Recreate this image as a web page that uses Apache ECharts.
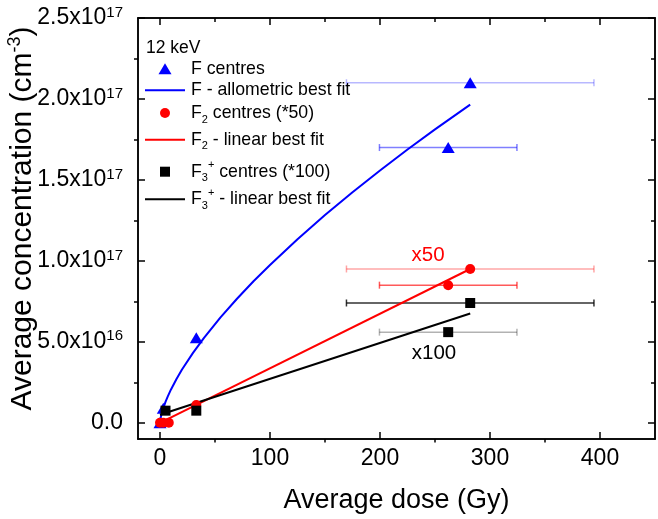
<!DOCTYPE html>
<html><head><meta charset="utf-8">
<script src="https://cdn.jsdelivr.net/npm/echarts@6/dist/echarts.min.js"></script>
<style>html,body{margin:0;padding:0;background:#fff}#c{width:658px;height:519px}</style>
</head><body><div id="c"></div>
<script>
// ---- data ----
const fCentres = [[0, 0], [3, 9e15], [33, 5.25e16], [262, 1.70e17], [282, 2.10e17]];
const fFitX = [0, 0.5, 1, 2, 3, 5, 7, 10, 15, 20, 30, 40, 55, 70, 85, 100, 125, 150, 175, 200, 225, 250, 282];
const fFitY = [0, 2.7e15, 4.3e15, 6.9e15, 9.1e15, 1.29e16, 1.62e16, 2.06e16, 2.7e16, 3.29e16, 4.32e16, 5.25e16,
               6.51e16, 7.66e16, 8.74e16, 9.75e16, 1.134e17, 1.283e17, 1.424e17, 1.558e17, 1.688e17, 1.812e17, 1.965e17];
const f2Centres = [[0, 0], [3, 0], [8, 0], [33, 1.1e16], [262, 8.5e16], [282, 9.5e16]];
const f2Fit = [[0, 0], [282, 9.5e16]];
const f3Centres = [[5, 7.5e15], [33, 7.5e15], [262, 5.6e16], [282, 7.4e16]];
const f3Fit = [[0, 5e15], [282, 6.75e16]];
// error bars: [x, y, xLow, xHigh]
const fErr  = [[282, 2.10e17, 169.5, 394.5], [262, 1.70e17, 199.5, 324.5]];
const f2Err = [[282, 9.5e16, 169.5, 394.5], [262, 8.5e16, 199.5, 324.5]];
const f3Err = [[282, 7.4e16, 169.5, 394.5], [262, 5.6e16, 199.5, 324.5]];
// ticks
const xMajor = [0, 100, 200, 300, 400];
const xMinor = [50, 150, 250, 350];
const yMajor = [0, 5e16, 1e17, 1.5e17, 2e17, 2.5e17];
const yMinor = [2.5e16, 7.5e16, 1.25e17, 1.75e17, 2.25e17];
const yTickMantissa = ['0.0', '5.0x10', '1.0x10', '1.5x10', '2.0x10', '2.5x10'];
const yTickExp = ['', '16', '17', '17', '17', '17'];
const legendNames = ['F centres', 'F - allometric best fit', 'F2 centres (*50)', 'F2 - linear best fit', 'F3+ centres (*100)', 'F3+ - linear best fit'];

// ---- styles ----
const FONT = 'Liberation Sans, Arial, sans-serif';
const BLUE = '#0000ff', RED = '#ff0000', BLACK = '#000000';
const errColors = {
  F: ['rgba(0,0,255,0.28)', 'rgba(0,0,255,0.5)'],
  F2: ['rgba(255,0,0,0.35)', 'rgba(255,0,0,0.65)'],
  F3: ['rgba(0,0,0,0.8)', 'rgba(0,0,0,0.3)']
};
const X_MIN = -20, X_MAX = 450, Y_MIN = -1e16, Y_MAX = 2.5e17;

function xAx(pos, ticks, len, inside, opts) {
  return Object.assign({
    type: 'value', position: pos, min: X_MIN, max: X_MAX, gridIndex: 0,
    axisLine: { show: true, onZero: false, lineStyle: { color: BLACK, width: 1.5 } },
    axisTick: { show: true, inside: inside, length: len, customValues: ticks, lineStyle: { color: BLACK, width: 1.5 } },
    axisLabel: { show: false }, splitLine: { show: false }
  }, opts || {});
}
function yAx(pos, ticks, len, inside, opts) {
  return Object.assign({
    type: 'value', position: pos, min: Y_MIN, max: Y_MAX, gridIndex: 0,
    axisLine: { show: true, onZero: false, lineStyle: { color: BLACK, width: 1.5 } },
    axisTick: { show: true, inside: inside, length: len, customValues: ticks, lineStyle: { color: BLACK, width: 1.5 } },
    axisLabel: { show: false }, splitLine: { show: false }
  }, opts || {});
}

const xAxes = [
  xAx('bottom', xMajor, 7, true, {
    name: 'Average dose (Gy)', nameLocation: 'middle', nameGap: 48, nameMoveOverlap: false,
    nameTextStyle: { fontFamily: FONT, fontSize: 27, color: BLACK },
    axisLabel: { show: true, customValues: xMajor, margin: 8, fontFamily: FONT, fontSize: 23, color: BLACK,
      formatter: v => String(v) }
  }),
  xAx('bottom', xMinor, 3.5, false),
  xAx('top', xMajor, 7, true),
  xAx('top', xMinor, 4, true)
];
const yAxes = [
  yAx('left', yMajor, 7, true, {
    name: '{t|Average concentration (cm}{s|-3}{t|)}', nameLocation: 'middle', nameGap: 99, nameMoveOverlap: false,
    nameTextStyle: { fontFamily: FONT, color: BLACK, padding: [0, 0, 0, 20], rich: {
      t: { fontFamily: FONT, fontSize: 30, lineHeight: 33, color: BLACK },
      s: { fontFamily: FONT, fontSize: 18, lineHeight: 15, verticalAlign: 'top', color: BLACK }
    } },
    axisLabel: { show: true, customValues: yMajor, margin: 15, color: BLACK,
      formatter: v => {
        const i = yMajor.indexOf(v);
        if (i < 0) return '';
        return '{m|' + yTickMantissa[i] + '}' + (yTickExp[i] ? '{e|' + yTickExp[i] + '}' : '');
      },
      rich: {
        m: { fontFamily: FONT, fontSize: 23, lineHeight: 26, color: BLACK },
        e: { fontFamily: FONT, fontSize: 15, lineHeight: 10, verticalAlign: 'top', color: BLACK }
      }
    }
  }),
  yAx('left', yMinor, 4, false),
  yAx('right', yMajor, 7, true),
  yAx('right', yMinor, 4, true)
];

function errSeries(name, data, colors) {
  return {
    type: 'custom', name: name, xAxisIndex: 0, yAxisIndex: 0, z: 1, silent: true,
    data: data, encode: { x: [0, 2, 3], y: 1 },
    renderItem: function (params, api) {
      const y = api.value(1);
      const p0 = api.coord([api.value(2), y]);
      const p1 = api.coord([api.value(3), y]);
      const c = colors[params.dataIndex];
      const st = { stroke: c, lineWidth: 1.5, fill: null };
      const cap = 3.5;
      return { type: 'group', children: [
        { type: 'line', shape: { x1: p0[0], y1: p0[1], x2: p1[0], y2: p1[1] }, style: st },
        { type: 'line', shape: { x1: p0[0], y1: p0[1] - cap, x2: p0[0], y2: p0[1] + cap }, style: st },
        { type: 'line', shape: { x1: p1[0], y1: p1[1] - cap, x2: p1[0], y2: p1[1] + cap }, style: st }
      ] };
    }
  };
}

const series = [
  errSeries('errF', fErr, errColors.F),
  errSeries('errF2', f2Err, errColors.F2),
  errSeries('errF3', f3Err, errColors.F3),
  { name: legendNames[0], type: 'scatter', data: fCentres, symbol: 'triangle', symbolSize: [13, 11],
    itemStyle: { color: BLUE, opacity: 1 }, z: 3, silent: true },
  { name: legendNames[1], type: 'line', data: fFitX.map((x, i) => [x, fFitY[i]]), showSymbol: false, symbol: 'none',
    smooth: false, lineStyle: { color: BLUE, width: 2 }, itemStyle: { color: BLUE }, z: 2, silent: true },
  { name: legendNames[2], type: 'scatter', data: f2Centres, symbol: 'circle', symbolSize: 10,
    itemStyle: { color: RED, opacity: 1 }, z: 4, silent: true },
  { name: legendNames[3], type: 'line', data: f2Fit, showSymbol: false, symbol: 'none',
    lineStyle: { color: RED, width: 2 }, itemStyle: { color: RED }, z: 2, silent: true },
  { name: legendNames[4], type: 'scatter', data: f3Centres, symbol: 'rect', symbolSize: 10,
    itemStyle: { color: BLACK, opacity: 1 }, z: 5, silent: true },
  { name: legendNames[5], type: 'line', data: f3Fit, showSymbol: false, symbol: 'none',
    lineStyle: { color: BLACK, width: 2 }, itemStyle: { color: BLACK }, z: 2, silent: true }
];

const legendRich = {
  n: { fontFamily: FONT, fontSize: 17.7, lineHeight: 24, color: BLACK },
  sub: { fontFamily: FONT, fontSize: 11, lineHeight: 11, verticalAlign: 'bottom', color: BLACK },
  sup: { fontFamily: FONT, fontSize: 11, lineHeight: 11, verticalAlign: 'top', color: BLACK }
};
const legendText = {
  'F centres': '{n|F centres}',
  'F - allometric best fit': '{n|F - allometric best fit}',
  'F2 centres (*50)': '{n|F}{sub|2}{n| centres (*50)}',
  'F2 - linear best fit': '{n|F}{sub|2}{n| - linear best fit}',
  'F3+ centres (*100)': '{n|F}{sub|3}{sup|+}{n| centres (*100)}',
  'F3+ - linear best fit': '{n|F}{sub|3}{sup|+}{n| - linear best fit}'
};
const legendCY = [71.7, 93.3, 116, 142.7, 171.7, 199.3];
const legendIsLine = [false, true, false, true, false, true];
const legendSym = [[13, 11], [40, 2], [10, 10], [40, 2], [10, 10], [40, 2]];
const legends = legendNames.map((nm, i) => {
  const w = legendSym[i][0], h = legendSym[i][1];
  const left = 165 - w / 2;
  const textStart = left + w + 5;
  return {
    show: true, data: [legendIsLine[i] ? { name: nm, icon: 'rect' } : { name: nm }],
    left: left, top: legendCY[i] - 12, padding: 0,
    itemWidth: w, itemHeight: h, selectedMode: false,
    itemStyle: { opacity: 1 },
    formatter: n => legendText[n],
    textStyle: { rich: legendRich, padding: [0, 0, 0, Math.max(0, 191 - textStart)] }
  };
});

const chart = echarts.init(document.getElementById('c'), null, { renderer: 'canvas' });
chart.setOption({
  animation: false,
  backgroundColor: '#fff',
  grid: { left: 138, right: 3, top: 18, bottom: 80, containLabel: false, outerBoundsMode: 'none' },
  xAxis: xAxes,
  yAxis: yAxes,
  legend: legends,
  series: series,
  graphic: [
    { type: 'text', left: 146, top: 39, style: { text: '12 keV', font: '17.5px ' + FONT, fill: BLACK } },
    { type: 'text', x: 428, y: 255, style: { text: 'x50', font: '20.5px ' + FONT, fill: RED, align: 'center', verticalAlign: 'middle' } },
    { type: 'text', x: 434, y: 353, style: { text: 'x100', font: '20.5px ' + FONT, fill: BLACK, align: 'center', verticalAlign: 'middle' } }
  ]
});
</script>
</body></html>
